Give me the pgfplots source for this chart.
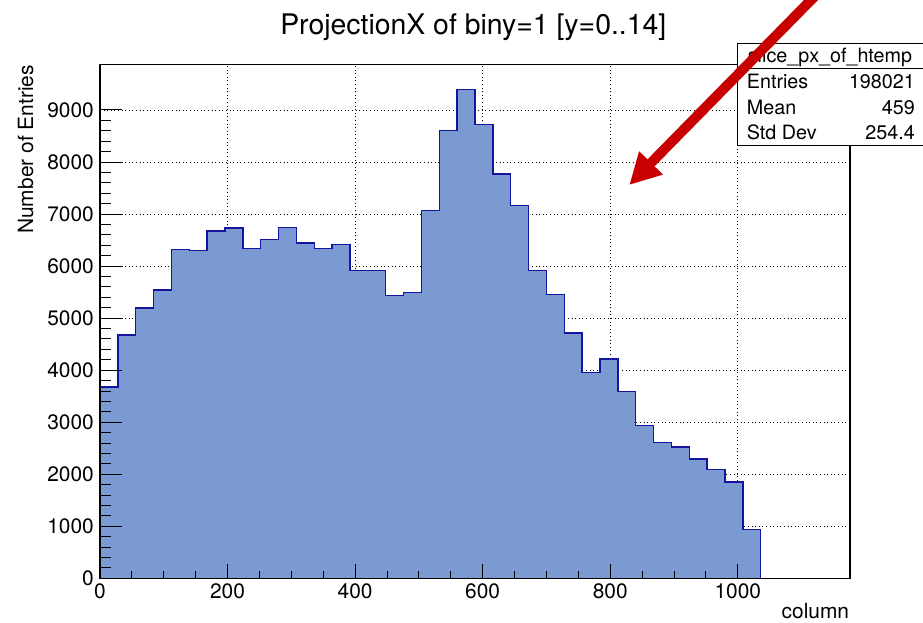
\documentclass[border=0pt]{standalone}
\usepackage{fontspec}
\setmainfont{TeX Gyre Heros}
\usepackage{pgfplots}
\pgfplotsset{compat=1.18}
\usetikzlibrary{arrows.meta}
\definecolor{histfill}{RGB}{124,154,210}
\definecolor{histline}{RGB}{20,20,160}
\definecolor{arrowred}{RGB}{200,0,0}
\pgfplotsset{
  rootframe/.style={
    at={(100bp,44.7bp)}, anchor=south west,
    scale only axis, width=750bp, height=513.6bp,
    xmin=0, xmax=1176, ymin=0, ymax=9870,
    xtick={0,200,...,1000}, ytick={0,1000,...,9000},
    scaled ticks=false,
    /pgf/number format/1000 sep={},
    /pgf/number format/assume math mode=true,
  }
}
\begin{document}
\begin{tikzpicture}[x=1bp,y=1bp]
\useasboundingbox (0,0) rectangle (923,623);
% back layer: grid and histogram
\begin{axis}[
  rootframe,
  axis line style={draw=none},
  major tick length=0pt, minor tick length=0pt,
  xticklabels={}, yticklabels={},
  grid=major,
  major grid style={black, line width=0.8bp, dash pattern=on 1bp off 2.6bp},
]
\addplot[const plot, fill=histfill, draw=histline, line width=1.4bp] table {
x y
0 3673
28 4679
56 5192
84 5538
112 6313
140 6294
168 6673
196 6731
224 6340
252 6506
280 6737
308 6442
336 6333
364 6410
392 5916
420 5916
448 5436
476 5487
504 7063
532 8608
560 9397
588 8717
616 7769
644 7165
672 5916
700 5448
728 4712
756 3954
784 4211
812 3588
840 2935
868 2615
896 2525
924 2294
952 2089
980 1852
1008 942
1036 942
} \closedcycle;
\end{axis}
% front layer: frame, ticks and tick labels
\begin{axis}[
  rootframe,
  axis line style={line width=1.2bp},
  tick align=inside, tick pos=left,
  minor x tick num=3, minor y tick num=4,
  xtick style={black, line width=0.9bp, /pgfplots/major tick length=14bp, /pgfplots/minor tick length=7bp},
  ytick style={black, line width=0.9bp, /pgfplots/major tick length=22bp, /pgfplots/minor tick length=11bp},
  tick label style={font=\fontsize{21}{21}\selectfont},
  xticklabel style={anchor=north, inner sep=0pt, yshift=-5bp},
  yticklabel style={anchor=east, inner sep=0pt, xshift=-6bp},
]
\end{axis}
% title and axis labels
\node[anchor=base, inner sep=0pt, font=\fontsize{28.5}{30}\selectfont] at (473.3,588) {ProjectionX of biny=1 [y=0..14]};
\node[anchor=base east, inner sep=0pt, font=\fontsize{21}{21}\selectfont] at (849.3,4) {column};
\node[anchor=base east, rotate=90, inner sep=0pt, font=\fontsize{21}{21}\selectfont] at (33,558) {Number of Entries};
% stats box
\fill[white] (737.7,477.7) rectangle (930,579.7);
\draw[black, line width=1bp] (930,579.7) -- (737.7,579.7) -- (737.7,477.7) -- (930,477.7);
\draw[black, line width=1bp] (737.7,554) -- (930,554);
\begin{scope}[font=\fontsize{19.8}{20}\selectfont]
\node[anchor=base, inner sep=0pt] at (830,560.3) {slice\_px\_of\_htemp};
\node[anchor=base west, inner sep=0pt] at (746.7,534.7) {Entries};
\node[anchor=base east, inner sep=0pt] at (915,534.7) {198021};
\node[anchor=base west, inner sep=0pt] at (746.7,508.7) {Mean};
\node[anchor=base east, inner sep=0pt] at (915,508.7) {459};
\node[anchor=base west, inner sep=0pt] at (746.7,483.7) {Std Dev};
\node[anchor=base east, inner sep=0pt] at (915,483.7) {254.4};
\end{scope}
% arrow
\draw[arrowred, line width=10bp, -{Triangle[length=31bp,width=31bp]}] (821.5,633.7) -- (629.3,438);
\end{tikzpicture}
\end{document}
